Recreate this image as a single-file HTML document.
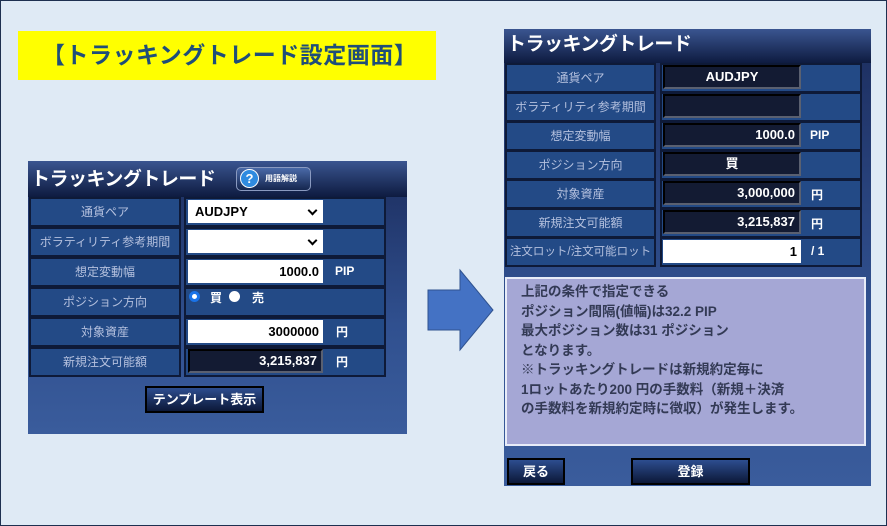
<!DOCTYPE html>
<html><head><meta charset="utf-8"><style>
*{margin:0;padding:0;box-sizing:border-box}
body{width:887px;height:526px;background:#dfeaf5;position:relative;overflow:hidden;font-family:"Liberation Sans","Noto Sans CJK JP",sans-serif;border:1px solid #1e3050}
.a{position:absolute}
.ttl{left:17px;top:30px;width:418px;height:49px;background:#ffff00;color:#1f4e79;font-weight:bold;font-size:23px;line-height:49px;padding-left:24px;letter-spacing:0.5px}
.panel{background:linear-gradient(#1c2d5e,#30508f 60%,#3a5c9c)}
.hdr{background:linear-gradient(#3a5590,#0e1b40);color:#fff;font-weight:bold;font-size:19px;padding-left:3px;letter-spacing:-0.5px}
.cl{background:#234a86;border:2px solid #0e1a38;color:#b4c0de;font-size:12px;text-align:center}
.cv{background:#234a86;border:2px solid #0e1a38}
.inp{background:#fff;color:#000;font-size:13px;font-weight:bold;text-align:right;padding-right:4px}
.dk{background:#131b33;border:2px solid #5a6070;border-top-color:#000;border-left-color:#000;color:#fff;font-size:13px;font-weight:bold;text-align:right;padding-right:4px}
.u{color:#fff;font-size:12px;font-weight:bold}
.btn{background:linear-gradient(#2d4d8f,#0c1838);border:2px solid #000;color:#fff;font-size:13px;font-weight:bold;text-align:center}
.car{position:absolute;right:7px;top:7px;width:7px;height:7px;border-right:2px solid #000;border-bottom:2px solid #000;transform:rotate(45deg)}
</style></head><body>
<div class="a ttl">【トラッキングトレード設定画面】</div>

<div class="a panel" style="left:27px;top:160px;width:379px;height:273px"></div>
<div class="a hdr" style="left:27px;top:160px;width:379px;height:36px;line-height:38px">トラッキングトレード</div>
<div class="a" style="left:235px;top:166px;width:75px;height:24px;border-radius:5px;background:linear-gradient(#4a6aa8,#15264f);border:1px solid #8a9ac0"></div>
<div class="a" style="left:239px;top:168px;width:19px;height:19px;border-radius:50%;background:#2f8be0;border:1px solid #fff;color:#fff;font-size:13px;font-weight:bold;text-align:center;line-height:18px">?</div>
<div class="a" style="left:264px;top:172px;color:#fff;font-size:8px;font-weight:bold">用語解説</div>

<div class="a cl" style="left:28px;top:196px;width:152px;height:30px;line-height:27px">通貨ペア</div>
<div class="a cv" style="left:183px;top:196px;width:202px;height:30px"></div>
<div class="a inp" style="left:187px;top:199px;width:135px;height:23px;line-height:23px;text-align:left;padding-left:7px">AUDJPY<span class="car"></span></div>

<div class="a cl" style="left:28px;top:226px;width:152px;height:30px;line-height:27px">ボラティリティ参考期間</div>
<div class="a cv" style="left:183px;top:226px;width:202px;height:30px"></div>
<div class="a inp" style="left:187px;top:229px;width:135px;height:23px"><span class="car"></span></div>

<div class="a cl" style="left:28px;top:256px;width:152px;height:30px;line-height:27px">想定変動幅</div>
<div class="a cv" style="left:183px;top:256px;width:202px;height:30px"></div>
<div class="a inp" style="left:187px;top:259px;width:135px;height:23px;line-height:23px">1000.0</div>
<div class="a u" style="left:334px;top:263px">PIP</div>

<div class="a cl" style="left:28px;top:286px;width:152px;height:30px;line-height:27px">ポジション方向</div>
<div class="a cv" style="left:183px;top:286px;width:202px;height:30px"></div>
<div class="a" style="left:188px;top:290px;width:11px;height:11px;border-radius:50%;background:#fff;border:3px solid #1a73e8"></div>
<div class="a u" style="left:209px;top:288px">買</div>
<div class="a" style="left:228px;top:290px;width:11px;height:11px;border-radius:50%;background:#fff"></div>
<div class="a u" style="left:251px;top:288px">売</div>

<div class="a cl" style="left:28px;top:316px;width:152px;height:30px;line-height:27px">対象資産</div>
<div class="a cv" style="left:183px;top:316px;width:202px;height:30px"></div>
<div class="a inp" style="left:187px;top:319px;width:135px;height:23px;line-height:23px">3000000</div>
<div class="a u" style="left:335px;top:322px">円</div>

<div class="a cl" style="left:28px;top:346px;width:152px;height:30px;line-height:27px">新規注文可能額</div>
<div class="a cv" style="left:183px;top:346px;width:202px;height:30px"></div>
<div class="a dk" style="left:187px;top:348px;width:135px;height:24px;line-height:20px">3,215,837</div>
<div class="a u" style="left:335px;top:352px">円</div>

<div class="a btn" style="left:144px;top:385px;width:119px;height:27px;line-height:23px">テンプレート表示</div>

<svg class="a" style="left:420px;top:262px" width="80" height="95"><polygon points="7,27 39,27 39,7 72,47 39,87 39,67 7,67" fill="#4472c4" stroke="#2f528f" stroke-width="1"/></svg>

<div class="a panel" style="left:503px;top:28px;width:367px;height:457px"></div>
<div class="a hdr" style="left:503px;top:28px;width:367px;height:34px;line-height:32px">トラッキングトレード</div>
<div class="a cl" style="left:504px;top:62px;width:151px;height:30px;line-height:27px">通貨ペア</div>
<div class="a cv" style="left:659px;top:62px;width:202px;height:30px"></div>
<div class="a dk" style="left:662px;top:64px;width:138px;height:24px;line-height:20px;text-align:center;padding:0">AUDJPY</div>

<div class="a cl" style="left:504px;top:91px;width:151px;height:30px;line-height:27px">ボラティリティ参考期間</div>
<div class="a cv" style="left:659px;top:91px;width:202px;height:30px"></div>
<div class="a dk" style="left:662px;top:93px;width:138px;height:24px"></div>

<div class="a cl" style="left:504px;top:120px;width:151px;height:30px;line-height:27px">想定変動幅</div>
<div class="a cv" style="left:659px;top:120px;width:202px;height:30px"></div>
<div class="a dk" style="left:662px;top:122px;width:138px;height:24px;line-height:20px">1000.0</div>
<div class="a u" style="left:809px;top:127px">PIP</div>

<div class="a cl" style="left:504px;top:149px;width:151px;height:30px;line-height:27px">ポジション方向</div>
<div class="a cv" style="left:659px;top:149px;width:202px;height:30px"></div>
<div class="a dk" style="left:662px;top:151px;width:138px;height:24px;line-height:20px;text-align:center;padding:0">買</div>

<div class="a cl" style="left:504px;top:178px;width:151px;height:30px;line-height:27px">対象資産</div>
<div class="a cv" style="left:659px;top:178px;width:202px;height:30px"></div>
<div class="a dk" style="left:662px;top:180px;width:138px;height:24px;line-height:20px">3,000,000</div>
<div class="a u" style="left:810px;top:185px">円</div>

<div class="a cl" style="left:504px;top:207px;width:151px;height:30px;line-height:27px">新規注文可能額</div>
<div class="a cv" style="left:659px;top:207px;width:202px;height:30px"></div>
<div class="a dk" style="left:662px;top:209px;width:138px;height:24px;line-height:20px">3,215,837</div>
<div class="a u" style="left:810px;top:214px">円</div>

<div class="a cl" style="left:504px;top:236px;width:151px;height:30px;line-height:27px;font-size:11.5px;white-space:nowrap;overflow:hidden">注文ロット/注文可能ロット</div>
<div class="a cv" style="left:659px;top:236px;width:202px;height:30px"></div>
<div class="a inp" style="left:662px;top:239px;width:138px;height:23px;line-height:23px">1</div>
<div class="a u" style="left:810px;top:243px">/ 1</div>

<div class="a" style="left:504px;top:276px;width:361px;height:169px;background:#a5a7d5;border:2px solid #e8ecf8;color:#333a55;font-size:13.5px;font-weight:bold;line-height:19.5px;padding:3px 0 0 14px">上記の条件で指定できる<br>ポジション間隔(値幅)は32.2 PIP<br>最大ポジション数は31 ポジション<br>となります。<br>※トラッキングトレードは新規約定毎に<br>1ロットあたり200 円の手数料（新規＋決済<br>の手数料を新規約定時に徴収）が発生します。</div>

<div class="a btn" style="left:506px;top:457px;width:58px;height:27px;line-height:23px">戻る</div>
<div class="a btn" style="left:630px;top:457px;width:119px;height:27px;line-height:23px">登録</div>
</body></html>
